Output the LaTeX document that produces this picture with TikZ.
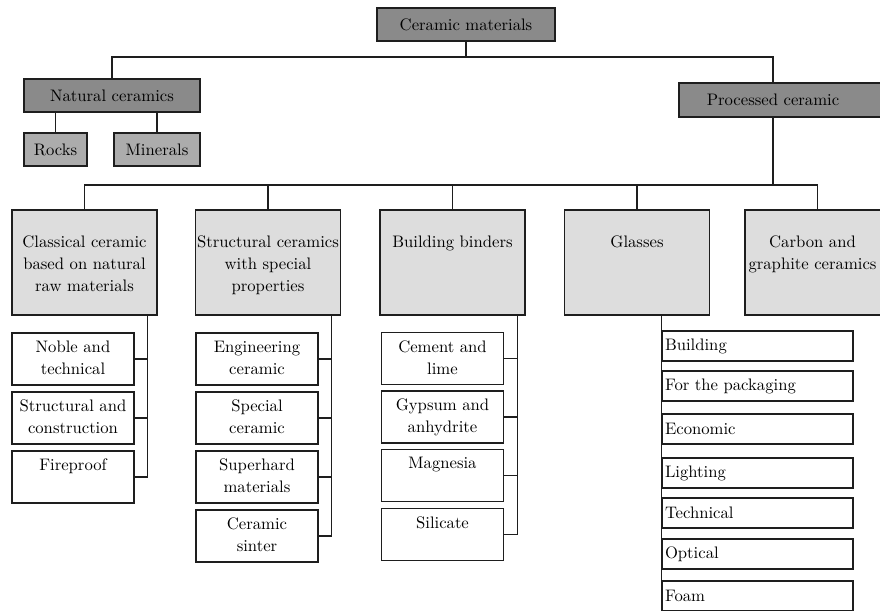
\documentclass[tikz,border=0pt]{standalone}
\usepackage{xcolor}
\usepackage{tikz}
\usetikzlibrary{positioning}
\definecolor{cerink}{RGB}{30,30,30}
\definecolor{cerdark}{RGB}{138,138,138}
\definecolor{cermid}{RGB}{172,172,172}
\definecolor{cerlight}{RGB}{221,221,221}

\begin{document}
\begin{tikzpicture}[
      x=0.6pt, y=-0.6pt,
      font=\fontsize{10}{13.2}\selectfont,
      head/.style={rectangle, draw=cerink, line width=1.1pt, fill=cerdark, minimum width=106.8pt,
        minimum height=19.8pt, inner sep=0pt},
      leaf/.style={rectangle, draw=cerink, line width=1pt, fill=cermid, minimum height=19.8pt, inner sep=0pt},
      group/.style={rectangle, draw=cerink, line width=1pt, fill=cerlight, minimum width=87pt,
        minimum height=63pt, inner sep=0pt},
      kid/.style={rectangle, draw=cerink, line width=0.9pt, fill=white, minimum width=73.2pt,
        minimum height=31.2pt, inner sep=0pt},
      txt/.style={align=center, inner sep=0pt},
      glass/.style={rectangle, draw=cerink, line width=0.9pt, fill=white, minimum width=114.6pt,
        minimum height=18pt, text width=111pt, inner xsep=1.8pt, inner ysep=0pt, align=left},
      link/.style={draw=cerink, line width=0.65pt}
    ]
    \clip (0,0) rectangle (880,610);

    % top levels
    \node[head] (cermat) at (466,24.5) {Ceramic materials};
    \node[head, minimum width=105.6pt] (nat) at (112,95.5) {Natural ceramics};
    \node[head, minimum width=129.6pt, minimum height=20.4pt] (proc) at (787,100) {};
    \node[txt] (proc-t) at (773,100) {Processed ceramic};
    \node[leaf, minimum width=37.8pt] (rocks) at (55.5,149.5) {Rocks};
    \node[leaf, minimum width=51.6pt] (minerals) at (157,149.5) {Minerals};

    % groups
    \node[group] (classical) at (84.5,262.5) {};
    \node[group] (struct) at (268,262.5) {};
    \node[group] (binders) at (452.5,262.5) {};
    \node[group] (glasses) at (637,262.5) {};
    \node[group] (carbon) at (817.5,262.5) {};
    \node[txt, below=16pt of classical.north] (classical-t) {Classical ceramic\\based on natural\\raw materials};
    \node[txt, below=16pt of struct.north] (struct-t) {Structural ceramics\\with special\\properties};
    \node[txt, below=16pt of binders.north] (binders-t) {Building binders};
    \node[txt, below=16pt of glasses.north] (glasses-t) {Glasses};
    \node[txt, below=16pt of carbon.north, xshift=-3pt] (carbon-t) {Carbon and\\graphite ceramics};

    % classical ceramic
    \node[kid] (noble) at (73,359) {};
    \node[kid] (structcon) at (73,418) {};
    \node[kid] (fire) at (73,477) {};
    \node[txt, below=5pt of noble.north] (noble-t) {Noble and\\technical};
    \node[txt, below=5pt of structcon.north] (structcon-t) {Structural and\\construction};
    \node[txt, below=5pt of fire.north] (fire-t) {Fireproof};

    % structural ceramics
    \node[kid] (eng) at (257,359) {};
    \node[kid] (special) at (257,418) {};
    \node[kid] (superhard) at (257,477) {};
    \node[kid] (sinter) at (257,536) {};
    \node[txt, below=5pt of eng.north] (eng-t) {Engineering\\ceramic};
    \node[txt, below=5pt of special.north] (special-t) {Special\\ceramic};
    \node[txt, below=5pt of superhard.north] (superhard-t) {Superhard\\materials};
    \node[txt, below=5pt of sinter.north] (sinter-t) {Ceramic\\sinter};

    % building binders
    \node[kid] (cement) at (442.5,358.5) {};
    \node[kid] (gypsum) at (442.5,417) {};
    \node[kid] (magnesia) at (442.5,475.5) {};
    \node[kid] (silicate) at (442.5,534.5) {};
    \node[txt, below=5pt of cement.north] (cement-t) {Cement and\\lime};
    \node[txt, below=5pt of gypsum.north] (gypsum-t) {Gypsum and\\anhydrite};
    \node[txt, below=5pt of magnesia.north] (magnesia-t) {Magnesia};
    \node[txt, below=5pt of silicate.north] (silicate-t) {Silicate};

    % glasses
    \node[glass] (gbuild) at (757.5,346) {Building};
    \node[glass] (gpack) at (757.5,386) {For the packaging};
    \node[glass] (gecon) at (757.5,429) {Economic};
    \node[glass] (glight) at (757.5,473) {Lighting};
    \node[glass] (gtech) at (757.5,513) {Technical};
    \node[glass] (gopt) at (757.5,554) {Optical};
    \node[glass] (gfoam) at (757.5,596) {Foam};

    % connectors
    \coordinate (topbus) at (0,57);
    \coordinate (midbus) at (0,185);
    \draw[link] (cermat.south) -- (cermat.south |- topbus) -| (nat.north);
    \draw[link] (cermat.south |- topbus) -| (proc.north -| proc-t);
    \draw[link] (nat.south -| rocks) -- (rocks.north);
    \draw[link] (nat.south -| minerals) -- (minerals.north);
    \draw[link] (proc.south -| proc-t) -- (proc-t |- midbus);
    \draw[link] (classical.north) |- (carbon.north |- midbus) -- (carbon.north);
    \draw[link] (struct.north) -- (struct.north |- midbus);
    \draw[link] (binders.north) -- (binders.north |- midbus);
    \draw[link] (glasses.north) -- (glasses.north |- midbus);

    \coordinate (spineA) at ([xshift=7.5pt]noble.east);
    \draw[link] (classical.south -| spineA) -- (spineA |- fire.east) -- (fire.east);
    \draw[link] (noble.east) -- (noble.east -| spineA);
    \draw[link] (structcon.east) -- (structcon.east -| spineA);

    \coordinate (spineB) at ([xshift=7.8pt]eng.east);
    \draw[link] (struct.south -| spineB) -- (spineB |- sinter.east) -- (sinter.east);
    \draw[link] (eng.east) -- (eng.east -| spineB);
    \draw[link] (special.east) -- (special.east -| spineB);
    \draw[link] (superhard.east) -- (superhard.east -| spineB);

    \coordinate (spineC) at ([xshift=8.2pt]cement.east);
    \draw[link] (binders.south -| spineC) -- (spineC |- silicate.east) -- (silicate.east);
    \draw[link] (cement.east) -- (cement.east -| spineC);
    \draw[link] (gypsum.east) -- (gypsum.east -| spineC);
    \draw[link] (magnesia.east) -- (magnesia.east -| spineC);

    \draw[link] (glasses.south -| gbuild.west) -- (gfoam.south west);
  \end{tikzpicture}
\end{document}
